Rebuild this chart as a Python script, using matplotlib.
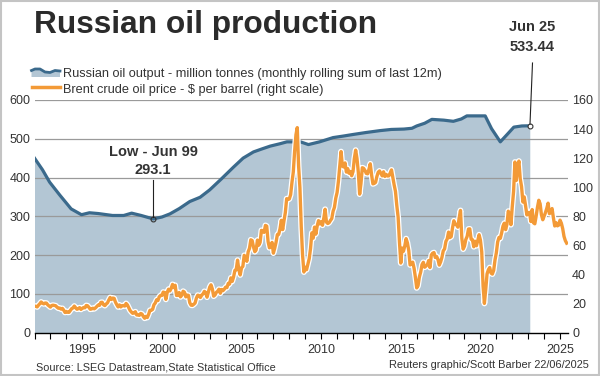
import matplotlib
matplotlib.use("Agg")
import matplotlib.pyplot as plt
import matplotlib.patheffects as pe
from matplotlib.patches import Polygon, Rectangle
from matplotlib.lines import Line2D
from matplotlib.ticker import MultipleLocator
import numpy as np

# ---------------- data ----------------
prod_years = [1992.0, 1992.5, 1992.95, 1993.6, 1994.3, 1994.95, 1995.45, 1996.0, 1996.9,
              1997.6, 1998.1, 1998.7, 1999.45, 2000.0, 2000.5, 2001.1, 2001.75, 2002.4,
              2003.0, 2003.7, 2004.5, 2005.1, 2005.75, 2006.3, 2006.8, 2007.4, 2007.85,
              2008.7, 2009.2, 2009.9, 2010.75, 2011.4, 2012.0, 2012.8, 2013.7, 2014.4,
              2015.2, 2015.7, 2016.0, 2016.5, 2016.95, 2017.7, 2018.3, 2018.8, 2019.15,
              2019.6, 2020.3, 2020.7, 2021.25, 2021.7, 2022.1, 2022.6, 2023.1]
prod_values = [450, 420, 388, 354, 319, 304, 309, 307, 302,
               302, 308, 302, 293.1, 298, 306, 320, 338, 349,
               368, 395, 427, 450, 466, 474, 481, 487, 492,
               492, 485, 492, 503, 507, 511, 516, 521, 524,
               525, 527, 533, 540, 550, 548, 545, 551, 559,
               559, 559, 526, 492, 512, 530, 533, 533.44]

brent_start = 1992.0
brent = [
    # 1992
    18.2, 18.0, 17.6, 18.8, 19.8, 21.0, 20.2, 19.7, 20.3, 20.2, 19.0, 18.2,
    # 1993
    17.5, 18.6, 18.8, 18.6, 18.4, 17.4, 16.7, 16.8, 16.1, 16.6, 15.4, 13.8,
    # 1994
    14.5, 13.9, 13.9, 15.1, 16.4, 16.9, 18.2, 17.0, 16.0, 16.4, 17.1, 15.9,
    # 1995
    16.6, 17.2, 17.0, 18.6, 18.4, 17.3, 16.0, 16.2, 16.7, 16.3, 17.0, 17.9,
    # 1996
    18.9, 18.7, 20.7, 20.8, 19.1, 18.5, 19.6, 20.4, 22.4, 24.1, 22.7, 23.7,
    # 1997
    23.5, 20.9, 19.1, 17.6, 19.0, 17.6, 18.4, 18.6, 18.2, 20.0, 19.0, 17.1,
    # 1998
    15.2, 14.1, 13.2, 13.5, 14.3, 12.1, 12.0, 11.8, 13.1, 12.7, 11.0, 9.8,
    # 1999
    11.1, 10.3, 12.5, 15.3, 15.3, 15.9, 19.1, 20.3, 22.5, 22.0, 24.6, 25.5,
    # 2000
    25.5, 27.8, 27.5, 22.8, 27.6, 29.8, 28.6, 30.4, 33.1, 30.9, 32.5, 25.5,
    # 2001
    25.6, 27.5, 24.5, 25.7, 28.4, 27.7, 24.5, 25.7, 25.6, 20.5, 18.8, 18.7,
    # 2002
    19.4, 20.3, 23.7, 25.7, 25.4, 24.1, 25.7, 26.6, 28.3, 27.5, 24.3, 27.9,
    # 2003
    31.2, 32.8, 30.0, 25.0, 25.8, 27.6, 28.4, 29.8, 27.0, 29.6, 28.8, 29.8,
    # 2004
    31.2, 30.9, 33.8, 33.4, 37.6, 35.2, 38.2, 42.7, 43.2, 49.8, 43.1, 39.6,
    # 2005
    44.5, 45.5, 53.1, 51.9, 49.0, 55.6, 57.9, 63.8, 63.3, 58.9, 55.6, 56.8,
    # 2006
    63.6, 60.1, 62.0, 70.3, 70.0, 68.9, 73.7, 73.2, 62.6, 58.3, 58.8, 62.0,
    # 2007
    54.6, 58.0, 62.1, 67.4, 67.5, 71.3, 77.2, 70.8, 77.0, 82.5, 92.1, 91.5,
    # 2008
    91.9, 94.8, 103.3, 110.4, 124.6, 136.0, 141.0, 114.6, 99.6, 72.8, 53.2, 41.6,
    # 2009
    44.9, 43.2, 47.0, 50.8, 57.9, 68.6, 64.9, 72.5, 67.7, 73.2, 77.0, 74.7,
    # 2010
    76.2, 73.8, 78.8, 84.8, 75.9, 75.0, 75.6, 77.1, 78.4, 83.5, 86.1, 92.4,
    # 2011
    96.3, 104.0, 114.6, 124.5, 114.5, 113.9, 116.7, 110.4, 112.8, 109.6, 110.8, 107.9,
    # 2012
    110.7, 119.7, 125.5, 119.8, 110.3, 95.2, 102.6, 113.4, 113.0, 111.5, 109.5, 109.2,
    # 2013
    112.3, 116.1, 108.5, 102.3, 102.6, 103.3, 107.4, 110.3, 111.2, 109.5, 107.8, 110.6,
    # 2014
    107.4, 108.8, 107.7, 107.8, 109.7, 111.9, 106.8, 101.6, 97.1, 87.4, 79.4, 62.3,
    # 2015
    47.8, 58.1, 55.9, 59.5, 64.6, 61.7, 56.5, 46.5, 47.6, 48.4, 44.3, 38.0,
    # 2016
    30.7, 32.2, 38.2, 41.6, 46.7, 48.3, 44.9, 45.8, 46.6, 49.5, 44.7, 53.3,
    # 2017
    54.6, 55.0, 51.6, 52.3, 50.3, 46.4, 48.5, 51.7, 56.2, 57.5, 62.7, 64.4,
    # 2018
    69.1, 65.3, 66.0, 72.1, 76.9, 74.4, 74.3, 72.5, 78.9, 84.0, 64.8, 57.4,
    # 2019
    59.4, 64.0, 66.1, 71.2, 71.3, 64.2, 63.9, 59.0, 62.8, 59.7, 63.2, 67.3,
    # 2020
    63.6, 55.5, 32.0, 20.0, 29.4, 40.3, 43.2, 44.7, 40.9, 40.2, 42.7, 49.9,
    # 2021
    54.8, 62.3, 65.4, 64.8, 68.5, 73.2, 75.2, 70.8, 74.5, 83.5, 81.1, 74.2,
    # 2022
    86.5, 97.1, 117.3, 104.6, 113.3, 118.0, 105.9, 100.4, 89.8, 93.3, 87.4, 80.9,
    # 2023
    82.5, 82.6, 76.4, 84.6, 75.5, 74.8, 80.1, 86.2, 91.0, 88.6, 80.9, 77.6,
    # 2024
    80.1, 82.5, 85.4, 89.0, 81.8, 82.6, 85.3, 78.9, 73.3, 75.6, 73.4, 73.9,
    # 2025
    77.3, 75.2, 71.5, 66.1, 63.2, 61.5,
]
brent_years = brent_start + np.arange(len(brent)) / 12.0

left_ticks = [0, 100, 200, 300, 400, 500, 600]
right_ticks = [0, 20, 40, 60, 80, 100, 120, 140, 160]
x_major = [1995, 2000, 2005, 2010, 2015, 2020, 2025]

title = "Russian oil production"
legend1 = "Russian oil output - million tonnes (monthly rolling sum of last 12m)"
legend2 = "Brent crude oil price - $ per barrel (right scale)"
source = "Source: LSEG Datastream,State Statistical Office"
credit = "Reuters graphic/Scott Barber 22/06/2025"

# ---------------- style ----------------
FONT = "Liberation Sans"
plt.rcParams["font.family"] = [FONT, "DejaVu Sans"]
TXT = "#333333"
FILL = "#b3c6d4"
PROD = "#3b6a8c"
OIL = "#f39a37"
GRID = "#9a9a9a"
TICKFS = 9

W, H = 600, 376
fig = plt.figure(figsize=(6.0, 3.76), dpi=100)

def fx(px):
    return px / W

def fy(py):
    return 1 - py / H

ax_l, ax_r, ax_t, ax_b = 34.5, 568, 100, 332.5
ax = fig.add_axes([fx(ax_l), fy(ax_b), fx(ax_r - ax_l), (ax_b - ax_t) / H])
ax.set_xlim(1992.0, 2025.5)
ax.set_ylim(0, 600)

ax.fill_between(prod_years, prod_values, 0, color=FILL, lw=0, zorder=1)
for v in left_ticks[1:]:
    ax.axhline(v, color=GRID, lw=0.9, zorder=2)
ax.plot(prod_years, prod_values, color=PROD, lw=2.3, zorder=3, solid_joinstyle="round")

ax.set_yticks(left_ticks)
ax.set_xticks(x_major)
ax.xaxis.set_minor_locator(MultipleLocator(1))
for s in ["top", "left", "right"]:
    ax.spines[s].set_visible(False)
ax.spines["bottom"].set_color("black")
ax.spines["bottom"].set_linewidth(1.0)
ax.spines["bottom"].set_zorder(6)
ax.tick_params(axis="y", length=0, pad=3, labelsize=TICKFS, labelcolor=TXT)
ax.tick_params(axis="x", which="major", length=4, width=0.8, pad=4, labelsize=TICKFS,
               labelcolor=TXT, direction="out")
ax.tick_params(axis="x", which="minor", length=4, width=0.8, direction="out")

ax2 = ax.twinx()
ax2.set_ylim(0, 160)
ax2.set_yticks(right_ticks)
for s in ["top", "left", "right", "bottom"]:
    ax2.spines[s].set_visible(False)
ax2.tick_params(axis="y", length=0, pad=3, labelsize=TICKFS, labelcolor=TXT)
ax2.plot(brent_years, brent, color=OIL, lw=2.4, zorder=4, solid_joinstyle="round",
         path_effects=[pe.Stroke(linewidth=4.2, foreground="white"), pe.Normal()])

# markers and annotation lines
i_low = prod_values.index(293.1)
ax.plot([prod_years[i_low]], [prod_values[i_low]], marker="o", ms=3.5, mfc="none",
        mec="#333333", mew=0.8, zorder=7, clip_on=False)
ax.plot([prod_years[-1]], [prod_values[-1]], marker="o", ms=3.5, mfc="white",
        mec="#333333", mew=0.8, zorder=7, clip_on=False)

fig.add_artist(Line2D([fx(153), fx(153)], [fy(180), fy(217)], color="#222222", lw=0.8))
fig.add_artist(Line2D([fx(532.5), fx(530)], [fy(63), fy(124)], color="#222222", lw=0.8))

fig.text(fx(153), fy(152), "Low - Jun 99", ha="center", va="center", fontsize=10.5,
         fontweight="bold", color=TXT)
fig.text(fx(153), fy(170), "293.1", ha="center", va="center", fontsize=10.5,
         fontweight="bold", color=TXT)
fig.text(fx(532), fy(27), "Jun 25", ha="center", va="center", fontsize=10.5,
         fontweight="bold", color=TXT)
fig.text(fx(532), fy(47), "533.44", ha="center", va="center", fontsize=10.5,
         fontweight="bold", color=TXT)

# title
fig.text(fx(34), fy(33.5), title, ha="left", va="baseline", fontsize=22.8,
         fontweight="bold", color="#2b2b2b")

# legend
wave = [(31.5, 70.5), (35, 69), (40, 69), (45, 72), (50, 72.5), (55, 70.5), (60, 71)]
poly = [(fx(x), fy(y)) for x, y in wave] + [(fx(60), fy(77)), (fx(31.5), fy(77))]
fig.add_artist(Polygon(poly, closed=True, facecolor=FILL, edgecolor="none"))
fig.add_artist(Line2D([fx(x) for x, y in wave], [fy(y) for x, y in wave], color=PROD, lw=2.0))
fig.add_artist(Line2D([fx(31.5), fx(60)], [fy(87.3), fy(87.3)], color=OIL, lw=2.5))
fig.text(fx(63), fy(77.5), legend1, ha="left", va="baseline", fontsize=9.2, color=TXT)
fig.text(fx(63), fy(92.5), legend2, ha="left", va="baseline", fontsize=9.2, color=TXT)

# footer
fig.text(fx(35.5), fy(371), source, ha="left", va="baseline", fontsize=7.8, color=TXT)
fig.text(fx(589), fy(368.5), credit, ha="right", va="baseline", fontsize=7.9, color=TXT)

# frame
fig.add_artist(Rectangle((0.001, 0.002), 0.997, 0.996, transform=fig.transFigure,
                         fill=False, edgecolor="#c4c4c4", lw=1.5))

fig.savefig("out.png", dpi=100)
